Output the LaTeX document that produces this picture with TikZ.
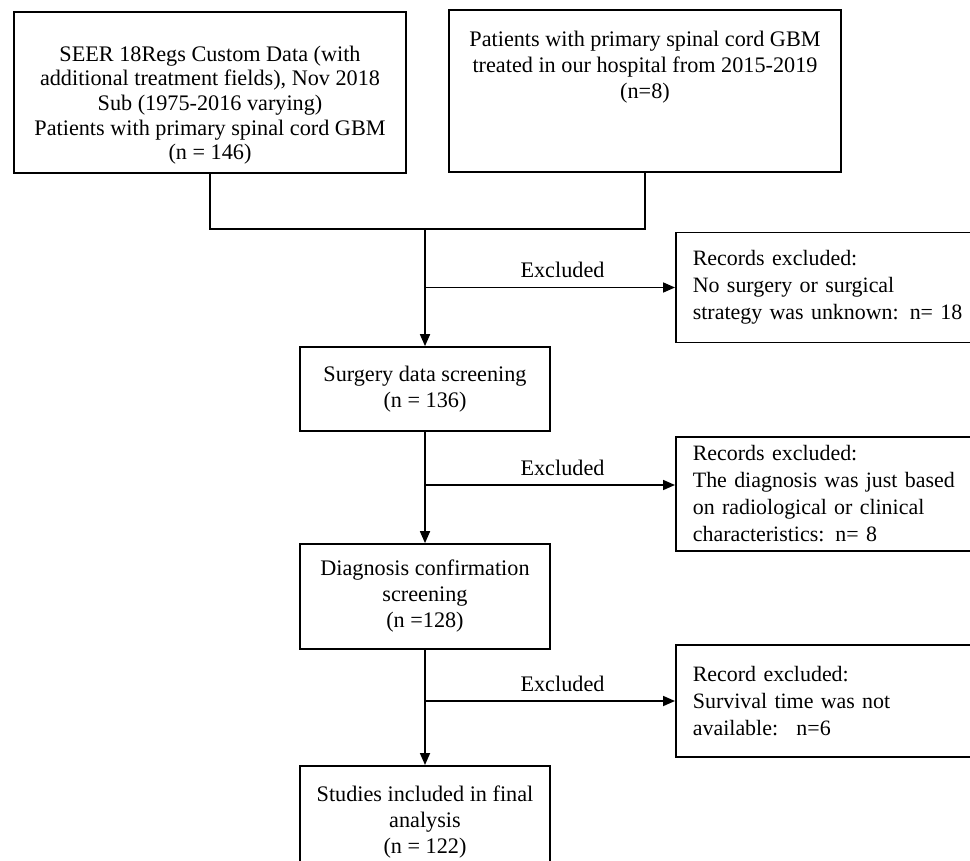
\documentclass[tikz,border=0pt]{standalone}
\usepackage{fontspec}
\setmainfont{Liberation Serif}
\usetikzlibrary{arrows.meta,positioning}

\begin{document}
\begin{tikzpicture}[x=0.025cm, y=-0.025cm, >={Triangle[length=3mm,width=2.5mm]},
   font=\fontsize{15.8}{18.5}\selectfont, line width=1.2pt,
   frame/.style={draw, minimum width=9.8cm, inner sep=0pt},
   stage/.style={draw, align=center, minimum width=6.25cm, inner sep=2pt},
   excl/.style={draw, align=left, text width=7.5cm, inner xsep=0.425cm, anchor=west,
                minimum height=2.75cm, font=\fontsize{15.6}{19.2}\selectfont},
   tag/.style={above=3pt, pos=0.55}]
  \useasboundingbox (0,0) rectangle (970,860);
  \clip (0,0) rectangle (970,860);

  % source boxes
  \node[frame, minimum height=4.025cm] (seer) at (210,92.5) {};
  \node[frame, minimum height=4.05cm]  (hosp) at (645,91) {};
  \node[align=center, anchor=north, inner sep=0pt, font=\fontsize{15.8}{17.5}\selectfont] (seertxt) at (210,45)
       {SEER 18Regs Custom Data (with\\additional treatment fields), Nov 2018\\Sub (1975-2016 varying)\\Patients with primary spinal cord GBM\\(n = 146)};
  \node[align=center, anchor=north, inner sep=0pt] (hosptxt) at (645,30)
       {Patients with primary spinal cord GBM\\treated in our hospital from 2015-2019\\(n=8)};

  % screening chain
  \node[stage, minimum height=2.1cm]   (surg)  at (425,389)   {Surgery data screening\\(n = 136)};
  \node[stage, minimum height=2.625cm] (diag)  at (425,596.5) {Diagnosis confirmation\\screening\\(n =128)};
  \node[stage, minimum height=2.8cm, anchor=north] (final) at (425,765) {Studies included in final\\analysis\\(n = 122)};

  % exclusion boxes
  \node[excl] (ex1) at (675,287.5) {Records excluded:\\No surgery or surgical\\strategy was unknown: n= 18};
  \node[excl, minimum height=2.85cm] (ex2) at (675,494) {Records excluded:\\The diagnosis was just based\\on radiological or clinical\\characteristics: n= 8};
  \node[excl, minimum height=2.8cm] (ex3) at (675,701) {Record excluded:\\Survival time was not\\available: \ n=6};

  % connectors
  \coordinate (join) at (surg.north |- 0,229);
  \draw (seer.south) |- (join) -| (hosp.south);
  \draw[->] (join) -- (surg.north);
  \draw[->] (surg.south) -- (diag.north);
  \draw[->] (diag.south) -- (final.north);
  \draw[->] (join |- ex1.west) -- node[tag]{Excluded} (ex1.west);
  \draw[->] (join |- 0,485) -- node[tag]{Excluded} (ex2.west |- 0,485);
  \draw[->] (join |- ex3.west) -- node[tag]{Excluded} (ex3.west);
\end{tikzpicture}
\end{document}
